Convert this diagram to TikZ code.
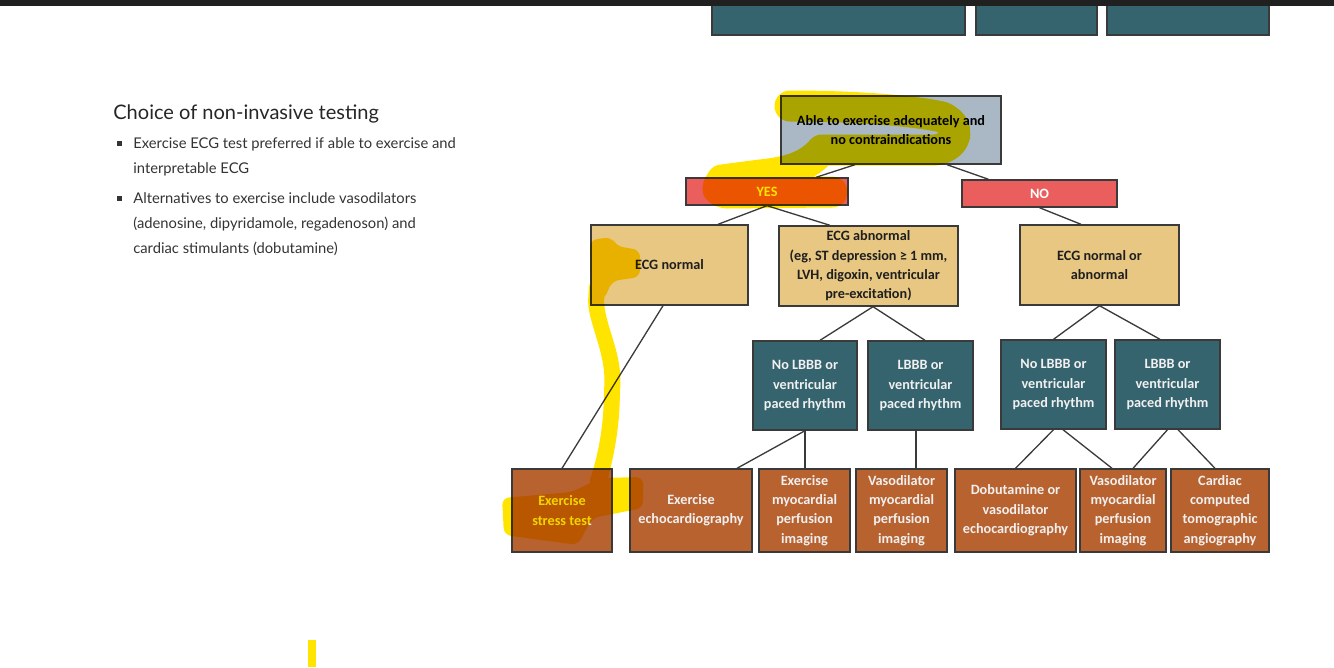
\documentclass[tikz,border=0pt]{standalone}
\usepackage{fontspec}
\setmainfont{Lato}
\newfontfamily\chartfont{Carlito}
\usetikzlibrary{calc}
\definecolor{rootgray}{HTML}{A9B8C4}
\definecolor{answerred}{HTML}{EB5E5E}
\definecolor{ecgtan}{HTML}{E8C782}
\definecolor{rhythmteal}{HTML}{35636E}
\definecolor{testbrown}{HTML}{B8622F}
\definecolor{marker}{HTML}{FFE400}
\definecolor{linegray}{HTML}{3A3A3A}
\definecolor{bodytext}{HTML}{333333}
\definecolor{topbar}{HTML}{202020}
\begin{document}
\begin{tikzpicture}[x=0.02cm,y=-0.02cm,
  box/.style={draw=linegray,line width=0.8pt,inner sep=0pt,align=center,
    font=\chartfont\bfseries\fontsize{8.1}{11}\selectfont},
  question/.style={box,fill=rootgray,text=black},
  answer/.style={box,fill=answerred,text=white,minimum height=0.54cm},
  ecgbox/.style={box,fill=ecgtan,text=black!88,minimum height=1.6cm},
  rhythm/.style={box,fill=rhythmteal,text=white!94!black,minimum height=1.78cm},
  testbox/.style={box,fill=testbrown,text=white!94!black,minimum height=1.66cm},
  link/.style={draw=linegray,line width=0.75pt},
  marker stroke/.style={draw=marker,line cap=round,line join=round},
  bodyline/.style={inner sep=0pt,anchor=base west,align=left,text=bodytext,
    font=\fontsize{8.4}{14.2}\selectfont}]
\useasboundingbox (0,0) rectangle (1334,667);

% cut-off boxes at the top
\filldraw[fill=rhythmteal,draw=linegray,line width=0.8pt] (712,-5) rectangle (965,35);
\filldraw[fill=rhythmteal,draw=linegray,line width=0.8pt] (976,-5) rectangle (1097,35);
\filldraw[fill=rhythmteal,draw=linegray,line width=0.8pt] (1107,-5) rectangle (1269,35);
\fill[topbar] (0,0) rectangle (1334,6);

% left column text (base = last line)
\node[inner sep=0pt,anchor=base west,text=black!85,font=\fontsize{11.4}{14}\selectfont]
  (title) at (113,119) {Choice of non-invasive testing};
\fill[black!80] (117,141) rectangle (122,146);
\node[bodyline] (pointA) at (133,173) {Exercise ECG test preferred if able to exercise and\\interpretable ECG};
\fill[black!80] (117,196) rectangle (122,201);
\node[bodyline] (pointB) at (133,253) {Alternatives to exercise include vasodilators\\(adenosine, dipyridamole, regadenoson) and\\cardiac stimulants (dobutamine)};

% decision tree
\node[question,minimum width=4.4cm,minimum height=1.36cm] (root) at (891,130)
  {Able to exercise adequately and\\no contraindications};
\node[answer,minimum width=3.24cm] (yes) at (767,191.5) {YES};
\node[answer,minimum width=3.1cm] (no) at (1039.5,193.5) {NO};

\node[ecgbox,minimum width=3.14cm] (ecgn) at (669.5,265) {ECG normal};
\node[ecgbox,minimum width=3.58cm] (ecga) at (868.5,266)
  {ECG abnormal\\(eg, ST depression ≥ 1 mm,\\LVH, digoxin, ventricular\\pre-excitation)};
\node[ecgbox,minimum width=3.18cm] (ecgb) at (1099.5,265) {ECG normal or\\abnormal};

\node[rhythm,minimum width=2.08cm] (rhyA) at (805,385.5) {No LBBB or\\ventricular\\paced rhythm};
\node[rhythm,minimum width=2.1cm] (rhyB) at (920.5,385.5) {LBBB or\\ventricular\\paced rhythm};
\node[rhythm,minimum width=2.1cm] (rhyC) at (1053.5,384.5) {No LBBB or\\ventricular\\paced rhythm};
\node[rhythm,minimum width=2.1cm] (rhyD) at (1167.5,384.5) {LBBB or\\ventricular\\paced rhythm};

\node[testbox,minimum width=2.0cm] (stress) at (562,510.5) {Exercise\\stress test};
\node[testbox,minimum width=2.44cm] (exEcho) at (691,510.5) {Exercise\\echocardiography};
\node[testbox,minimum width=1.82cm] (exMpi) at (804.5,510.5) {Exercise\\myocardial\\perfusion\\imaging};
\node[testbox,minimum width=1.82cm] (vaMpi) at (901.5,510.5) {Vasodilator\\myocardial\\perfusion\\imaging};
\node[testbox,minimum width=2.42cm] (dobEcho) at (1015.5,510.5) {Dobutamine or\\vasodilator\\echocardiography};
\node[testbox,minimum width=1.72cm] (vaMpiB) at (1123,510.5) {Vasodilator\\myocardial\\perfusion\\imaging};
\node[testbox,minimum width=1.96cm] (cardCta) at (1220,510.5) {Cardiac\\computed\\tomographic\\angiography};

% connectors
\draw[link] ([xshift=-0.72cm]root.south) -- ([xshift=0.98cm]yes.north);
\draw[link] ([xshift=1.12cm]root.south) -- ([xshift=-1.02cm]no.north);
\draw[link] (yes.south) -- ([xshift=0.97cm]ecgn.north);
\draw[link] (yes.south) -- ([xshift=-0.77cm]ecga.north);
\draw[link] (no.south) -- ([xshift=-0.37cm]ecgb.north);
\draw[link] ([xshift=-0.13cm]ecgn.south) -- (stress.north);
\draw[link] ([xshift=0.09cm]ecga.south) -- ([xshift=0.3cm]rhyA.north);
\draw[link] ([xshift=0.09cm]ecga.south) -- ([xshift=0.09cm]rhyB.north);
\draw[link] (rhyA.south) -- ([xshift=0.92cm]exEcho.north);
\draw[link] (rhyA.south) -- (rhyA.south |- exMpi.north);
\draw[link] ([xshift=-0.09cm]rhyB.south) -- ([xshift=-0.09cm]rhyB.south |- vaMpi.north);
\draw[link] (ecgb.south) -- (rhyC.north);
\draw[link] (ecgb.south) -- ([xshift=-0.15cm]rhyD.north);
\draw[link] (rhyC.south) -- (dobEcho.north);
\draw[link] ([xshift=0.19cm]rhyC.south) -- ([xshift=-0.22cm]vaMpiB.north);
\draw[link] (rhyD.south) -- ([xshift=0.2cm]vaMpiB.north);
\draw[link] ([xshift=0.21cm]rhyD.south) -- ([xshift=-0.1cm]cardCta.north);

% highlighter marks
\begin{scope}[blend mode=multiply]
\draw[marker stroke,line width=0.62cm] (790,106) .. controls (850,106) and (910,110) .. (942,117)
  .. controls (962,126) and (958,146) .. (936,150) -- (822,150)
  .. controls (808,166) and (790,172) .. (760,175) -- (722,180)
  .. controls (716,190) .. (726,193) -- (832,192);
\fill[marker,rounded corners=4pt]
  (590,240) -- (612,237) -- (616,246) -- (640,250) -- (640,277) -- (612,281) -- (604,300) -- (591,300) -- cycle
  (589,290) -- (605,290) .. controls (602,320) and (622,350) .. (620,392)
    .. controls (619,430) and (614,455) .. (606,486) -- (588,486)
    .. controls (598,455) and (603,430) .. (604,392) .. controls (606,350) and (586,320) .. (589,290) -- cycle
  (502,498) -- (572,492) -- (600,478) -- (643,477) -- (643,508) -- (592,518) -- (578,545) -- (504,535) -- cycle;
\fill[marker] (308,640) rectangle (316,667);
\end{scope}
\end{tikzpicture}
\end{document}
